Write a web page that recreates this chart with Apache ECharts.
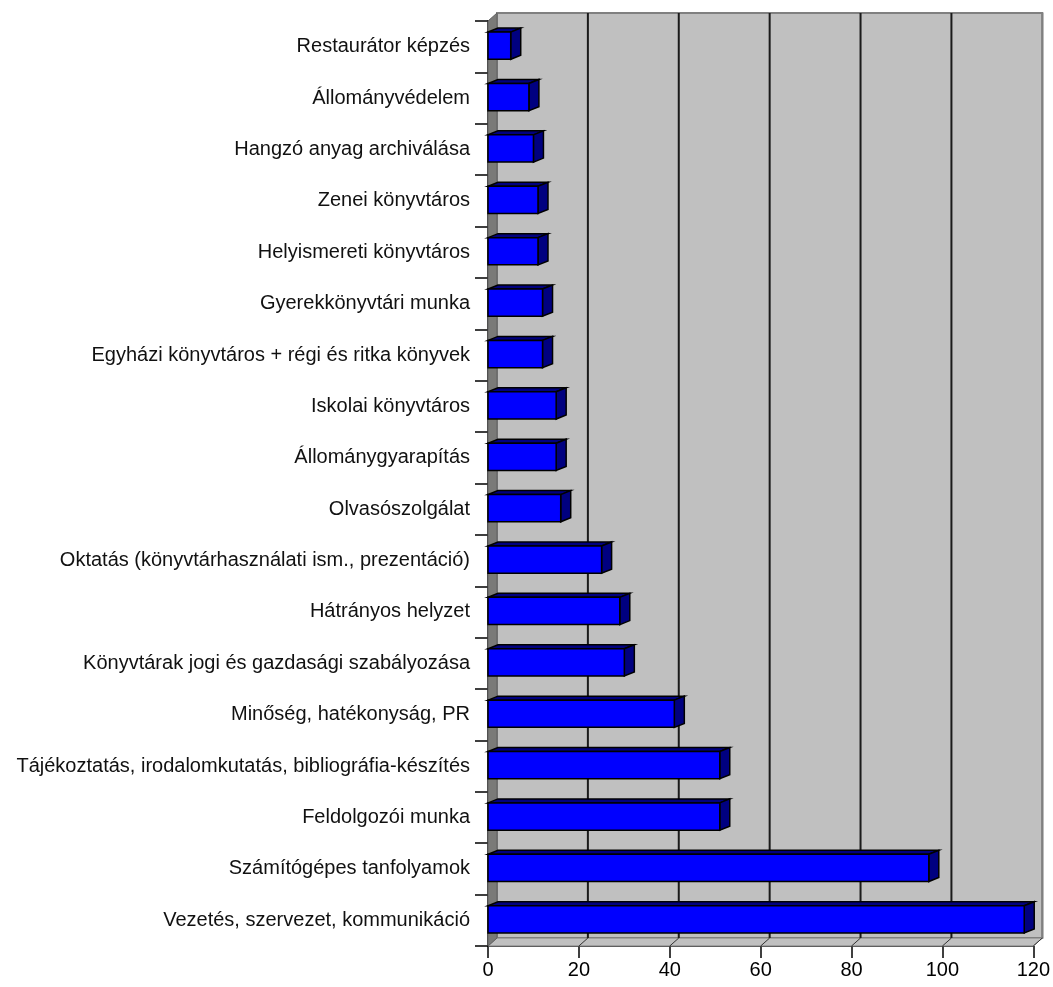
<!DOCTYPE html>
<html>
<head>
<meta charset="utf-8">
<script src="https://cdn.jsdelivr.net/npm/echarts@6/dist/echarts.min.js"></script>
<style>
html,body{margin:0;padding:0;background:#fff;}
#chart{width:1053px;height:987px;}
</style>
</head>
<body>
<div id="chart"></div>
<script>
const categories = [
  "Restaurátor képzés",
  "Állományvédelem",
  "Hangzó anyag archiválása",
  "Zenei könyvtáros",
  "Helyismereti könyvtáros",
  "Gyerekkönyvtári munka",
  "Egyházi könyvtáros + régi és ritka könyvek",
  "Iskolai könyvtáros",
  "Állománygyarapítás",
  "Olvasószolgálat",
  "Oktatás (könyvtárhasználati ism., prezentáció)",
  "Hátrányos helyzet",
  "Könyvtárak jogi és gazdasági szabályozása",
  "Minőség, hatékonyság, PR",
  "Tájékoztatás, irodalomkutatás, bibliográfia-készítés",
  "Feldolgozói munka",
  "Számítógépes tanfolyamok",
  "Vezetés, szervezet, kommunikáció"
];
const values = [5, 9, 10, 11, 11, 12, 12, 15, 15, 16, 25, 29, 30, 41, 51, 51, 97, 118];
const xTicks = [0, 20, 40, 60, 80, 100, 120];

const DX = 9, DY = -8;      // wall depth
const BDX = 10, BDY = -4;   // bar depth

const chart = echarts.init(document.getElementById('chart'));

function renderWalls(params, api) {
  const cs = params.coordSys;
  const x0 = cs.x, y0 = cs.y, x1 = cs.x + cs.width, y1 = cs.y + cs.height;
  const children = [];
  // back wall
  children.push({type:'rect', shape:{x:x0+DX, y:y0+DY, width:x1-x0, height:y1-y0},
    style:{fill:'#c0c0c0', stroke:'#808080', lineWidth:2}});
  // floor
  children.push({type:'polygon', shape:{points:[[x0,y1],[x1,y1],[x1+DX,y1+DY],[x0+DX,y1+DY]]},
    style:{fill:'#c0c0c0', stroke:'#808080', lineWidth:1}});
  // side wall
  children.push({type:'polygon', shape:{points:[[x0,y0],[x0+DX,y0+DY],[x0+DX,y1+DY],[x0,y1]]},
    style:{fill:'#7a7a78', stroke:'#606060', lineWidth:1}});
  xTicks.forEach(function(t){
    const px = api.coord([t, 0])[0];
    if (t > 0) {
      children.push({type:'line', shape:{x1:px+DX, y1:y0+DY, x2:px+DX, y2:y1+DY},
        style:{stroke: t === xTicks[xTicks.length-1] ? '#808080' : '#1a1a1a', lineWidth:2}});
      children.push({type:'line', shape:{x1:px, y1:y1, x2:px+DX, y2:y1+DY},
        style:{stroke:'#333', lineWidth:1}});
    }
  });
  return {type:'group', children:children};
}

function renderBar(params, api) {
  const v = api.value(0), c = api.value(1);
  const p0 = api.coord([0, c]);
  const p1 = api.coord([v, c]);
  const band = api.size([0, 1])[1];
  const h = band * 0.53;
  const top = p0[1] - h / 2 - 1, bottom = top + h;
  const xa = p0[0], xb = p1[0];
  return {type:'group', children:[
    {type:'polygon', shape:{points:[[xa,top],[xb,top],[xb+BDX,top+BDY],[xa+BDX,top+BDY]]},
      style:{fill:'#000080', stroke:'#000', lineWidth:1.5}},
    {type:'polygon', shape:{points:[[xb,top],[xb+BDX,top+BDY],[xb+BDX,bottom+BDY],[xb,bottom]]},
      style:{fill:'#000080', stroke:'#000', lineWidth:1.5}},
    {type:'rect', shape:{x:xa, y:top, width:xb-xa, height:h},
      style:{fill:'#0000ff', stroke:'#000', lineWidth:1.5}}
  ]};
}

const option = {
  animation: false,
  backgroundColor: '#ffffff',
  grid: {left: 488, right: 14, top: 21, bottom: 41, containLabel: false},
  xAxis: {
    type: 'value', min: 0, max: 120, interval: 20,
    splitLine: {show: false},
    axisLine: {show: true, lineStyle: {color: '#000', width: 1.5}},
    axisTick: {show: true, length: 12, lineStyle: {color: '#000', width: 1.5}},
    axisLabel: {color: '#000', fontSize: 20, fontFamily: 'Liberation Sans', margin: 14,
      formatter: function(v){ return xTicks.indexOf(v) >= 0 ? String(v) : ''; }}
  },
  yAxis: {
    type: 'category', inverse: true, data: categories,
    axisLine: {show: true, lineStyle: {color: '#000', width: 1.5}},
    axisTick: {show: true, length: 13, lineStyle: {color: '#000', width: 1.5}},
    axisLabel: {color: '#111', fontSize: 20, fontFamily: 'Liberation Sans', margin: 18}
  },
  series: [
    {type: 'custom', renderItem: renderWalls, data: [[0, 0]], z: 1, silent: true, clip: false},
    {type: 'custom', renderItem: renderBar, data: values.map(function(v, i){ return [v, i]; }),
      encode: {x: 0, y: 1}, z: 2, clip: false}
  ]
};
chart.setOption(option);
</script>
</body>
</html>
